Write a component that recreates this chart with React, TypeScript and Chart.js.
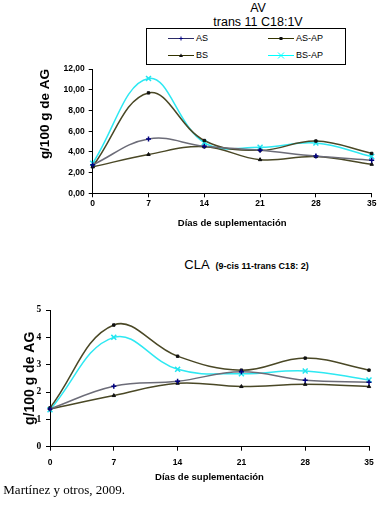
import React, { useEffect, useRef } from 'react';
import { Chart, registerables } from 'chart.js';

Chart.register(...registerables);

// ---------- data ----------
const days = ['0', '7', '14', '21', '28', '35'];
const seriesNames = ['AS', 'AS-AP', 'BS', 'BS-AP'];

// AV – trans 11 C18:1V (g/100 g de AG)
const avAS = [2.75, 5.25, 4.55, 4.15, 3.6, 3.2];
const avASAP = [2.6, 9.7, 5.1, 4.15, 5.05, 3.85];
const avBS = [2.55, 3.75, 4.5, 3.25, 3.55, 2.8];
const avBSAP = [2.9, 11.1, 4.9, 4.45, 4.85, 3.55];

// CLA – 9-cis 11-trans C18:2 (g/100 g de AG)
const claAS = [1.38, 2.21, 2.39, 2.74, 2.43, 2.36];
const claASAP = [1.42, 4.45, 3.31, 2.8, 3.24, 2.8];
const claBS = [1.38, 1.87, 2.32, 2.2, 2.28, 2.2];
const claBSAP = [1.35, 4.0, 2.83, 2.67, 2.77, 2.44];

const avTitle = ['AV', 'trans 11 C18:1V'];
const claTitle = 'CLA';
const claSubtitle = '(9-cis 11-trans C18: 2)';
const yTitle = 'g/100 g de AG';
const xTitle = 'Días de suplementación';
const source = 'Martínez y otros, 2009.';

// ---------- styles ----------
const seriesStyles = [
  { line: '#6c6c78', legendLine: '#2d2d66', marker: 'cross', color: '#000080', radius: 2.5 },
  { line: '#4a4826', legendLine: '#333300', marker: 'rect', color: '#111111', radius: 1.7 },
  { line: '#4a4826', legendLine: '#333300', marker: 'triangle', color: '#111111', radius: 2 },
  { line: '#2ee8f2', legendLine: '#00ffff', marker: 'crossRot', color: '#22e6f0', radius: 3.5 },
];

const SANS = '"Liberation Sans", Arial, sans-serif';

type ChartProps = {
  top: number;
  height: number;
  series: number[][];
  yMax: number;
  yStep: number;
  yFormat: (v: number) => string;
  yTickFont: any;
  padTop: number;
  padRight: number;
  yWidth: number;
  yTitleSize: number;
  yTitlePad: number;
  yTitleAlign: 'start' | 'center' | 'end';
  yTickPad: number;
  xHeight: number;
  xTickPad: number;
  xTitlePad: number;
};

function LineChart(p: ChartProps) {
  const ref = useRef<HTMLCanvasElement | null>(null);
  useEffect(() => {
    if (!ref.current) return;
    const datasets = p.series.map((vals, i) => {
      const s = seriesStyles[i];
      return {
        label: seriesNames[i],
        data: vals,
        borderColor: s.line,
        backgroundColor: s.color,
        borderWidth: 1.5,
        tension: 0.4,
        fill: false,
        pointStyle: s.marker as any,
        pointRadius: s.radius,
        pointBorderColor: s.color,
        pointBackgroundColor: s.color,
        pointBorderWidth: s.marker === 'cross' || s.marker === 'crossRot' ? 1.5 : 1,
      };
    });
    const chart = new Chart(ref.current, {
      type: 'line',
      data: { labels: days, datasets },
      options: {
        animation: false,
        responsive: false,
        events: [],
        layout: { padding: { top: p.padTop, right: p.padRight, left: 0, bottom: 0 } },
        plugins: { legend: { display: false }, tooltip: { enabled: false } },
        scales: {
          x: {
            type: 'category',
            offset: false,
            grid: { display: true, drawOnChartArea: false, drawTicks: true, tickLength: 4, color: '#000' },
            border: { display: true, color: '#000', width: 1 },
            ticks: {
              color: '#000',
              padding: p.xTickPad,
              maxRotation: 0,
              autoSkip: false,
              font: { family: SANS, size: 8.5, weight: 'bold' },
            },
            title: {
              display: true,
              text: xTitle,
              color: '#000',
              font: { family: SANS, size: 9.5, weight: 'bold' },
              padding: { top: 0, bottom: p.xTitlePad },
            },
            afterFit: (s: any) => {
              s.height = p.xHeight;
            },
          },
          y: {
            min: 0,
            max: p.yMax,
            grid: { display: true, drawOnChartArea: false, drawTicks: true, tickLength: 4, color: '#000' },
            border: { display: true, color: '#000', width: 1 },
            ticks: {
              stepSize: p.yStep,
              color: '#000',
              padding: p.yTickPad,
              font: p.yTickFont,
              callback: (v: any) => p.yFormat(Number(v)),
            },
            title: {
              display: true,
              text: yTitle,
              align: p.yTitleAlign,
              color: '#000',
              font: { family: SANS, size: p.yTitleSize, weight: 'bold' },
              padding: { top: p.yTitlePad, bottom: 0 },
            },
            afterFit: (s: any) => {
              s.width = p.yWidth;
            },
          },
        },
      },
    });
    return () => chart.destroy();
  }, []);
  return (
    <canvas
      ref={ref}
      width={389}
      height={p.height}
      style={{ position: 'absolute', left: 0, top: p.top, width: 389, height: p.height }}
    />
  );
}

function Marker({ kind, color }: { kind: string; color: string }) {
  if (kind === 'cross')
    return (
      <g stroke={color} strokeWidth={1}>
        <line x1={11} y1={4.5} x2={15} y2={4.5} />
        <line x1={13} y1={2.5} x2={13} y2={6.5} />
      </g>
    );
  if (kind === 'rect') return <rect x={11.5} y={3} width={3} height={3} fill={color} />;
  if (kind === 'triangle') return <polygon points="13,2.5 15,6 11,6" fill={color} />;
  return (
    <g stroke={color} strokeWidth={1}>
      <line x1={10} y1={1.5} x2={16} y2={7.5} />
      <line x1={16} y1={1.5} x2={10} y2={7.5} />
    </g>
  );
}

function Legend() {
  const colX = [22, 122];
  const rowY = [10, 27];
  return (
    <div
      style={{
        position: 'absolute',
        left: 146,
        top: 28,
        width: 200,
        height: 37,
        border: '1px solid #000',
        boxSizing: 'border-box',
      }}
    >
      {seriesNames.map((name, i) => {
        const s = seriesStyles[i];
        const cx = colX[i % 2];
        const cy = rowY[Math.floor(i / 2)];
        return (
          <div key={name} style={{ position: 'absolute', left: cx - 1, top: cy - 5.5, height: 9, display: 'flex', alignItems: 'center' }}>
            <svg width={26} height={9} style={{ display: 'block' }}>
              <line x1={0} y1={4.5} x2={26} y2={4.5} stroke={s.legendLine} strokeWidth={1} />
              <Marker kind={s.marker} color={s.marker === 'crossRot' ? '#00ffff' : s.color} />
            </svg>
            <span style={{ font: `9px ${SANS}`, lineHeight: '9px', marginLeft: 2, color: '#000' }}>{name}</span>
          </div>
        );
      })}
    </div>
  );
}

export default function App() {
  return (
    <div
      style={{
        position: 'absolute',
        left: 0,
        top: 0,
        width: 389,
        height: 519,
        background: '#fff',
        overflow: 'hidden',
      }}
    >
      <div
        style={{
          position: 'absolute',
          left: 158,
          top: 1.4,
          width: 200,
          textAlign: 'center',
          font: `12.5px ${SANS}`,
          lineHeight: '14px',
          color: '#000',
        }}
      >
        {avTitle[0]}
        <br />
        {avTitle[1]}
      </div>
      <Legend />
      <LineChart
        top={60}
        height={180}
        series={[avAS, avASAP, avBS, avBSAP]}
        yMax={12}
        yStep={2}
        yFormat={(v) => v.toFixed(2).replace('.', ',')}
        yTickFont={{ family: SANS, size: 8.5, weight: 'bold' }}
        padTop={6.7}
        padRight={17.3}
        yWidth={92.7}
        yTitleSize={13.5}
        yTitlePad={37}
        yTitleAlign="end"
        yTickPad={4}
        xHeight={46.7}
        xTickPad={1.5}
        xTitlePad={11.3}
      />
      <div
        style={{
          position: 'absolute',
          left: 184.3,
          top: 255.5,
          whiteSpace: 'nowrap',
          lineHeight: '16px',
          color: '#000',
        }}
      >
        <span style={{ font: `13px ${SANS}` }}>{claTitle}</span>
        <span style={{ font: `bold 9px ${SANS}`, marginLeft: 6 }}>{claSubtitle}</span>
      </div>
      <LineChart
        top={295}
        height={195}
        series={[claAS, claASAP, claBS, claBSAP]}
        yMax={5}
        yStep={1}
        yFormat={(v) => String(v)}
        yTickFont={{ family: '"Liberation Serif", serif', size: 9.5, weight: 'bold' }}
        padTop={15}
        padRight={20}
        yWidth={50}
        yTitleSize={14}
        yTitlePad={21.6}
        yTitleAlign="center"
        yTickPad={4.7}
        xHeight={43.3}
        xTickPad={7.2}
        xTitlePad={7.3}
      />
      <div
        style={{
          position: 'absolute',
          left: 3.3,
          top: 482.4,
          whiteSpace: 'nowrap',
          font: '13px "Liberation Serif", "Times New Roman", serif',
          lineHeight: '15px',
          color: '#000',
        }}
      >
        {source}
      </div>
    </div>
  );
}
